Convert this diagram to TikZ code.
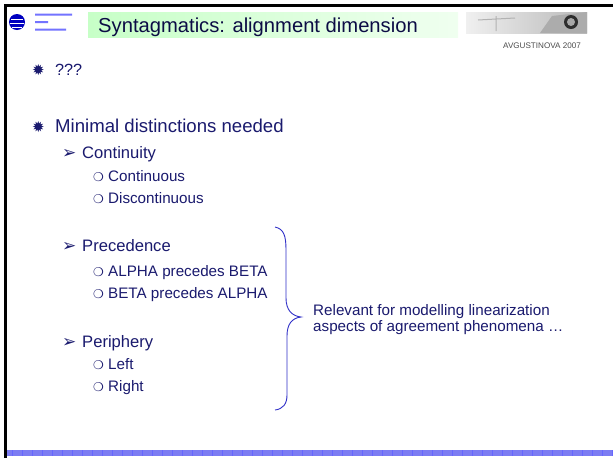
\documentclass[tikz,border=0pt]{standalone}
\usepackage{fontspec}
\setmainfont{Liberation Sans}
\newfontfamily\symfont{DejaVu Sans}
\definecolor{ink}{HTML}{1A1A6E}
\definecolor{titleink}{HTML}{0C0C45}
\definecolor{bracecol}{HTML}{3030C8}
\definecolor{bandcol}{HTML}{7C7CF2}
\tikzset{
  txt/.style={inner sep=0pt, anchor=base west, text=ink},
  lone/.style={txt, font=\fontsize{18.6}{22}\selectfont},
  ltwo/.style={txt, font=\fontsize{16.6}{20}\selectfont},
  lthree/.style={txt, font=\fontsize{15.2}{18}\selectfont},
  starbul/.style={txt, font=\symfont\fontsize{15}{17}\selectfont},
  arrbul/.style={txt, font=\symfont\fontsize{17}{19}\selectfont},
  circbul/.style={txt, font=\symfont\fontsize{12}{14}\selectfont},
}
\begin{document}
\begin{tikzpicture}[x=1pt,y=-1pt]
  \useasboundingbox (0,0) rectangle (613,459);
  \fill[white] (0,0) rectangle (613,459);
  % slide frame
  \draw[line width=2.5pt] (4,5.5) -- (613,5.5);
  \draw[line width=2.5pt] (5.5,4) -- (5.5,458);
  % header
  \shade[left color=green!22, right color=green!6] (88,12) rectangle (458,37);
  \fill[blue!75!black] (17,22) circle (8);
  \draw[white, line width=0.6pt] (11,19) -- (23,19) (10,23) -- (24,23) (12,27) -- (22,27);
  \fill[blue!55] (35,13.5) rectangle (72,15.5)
                 (35,21) rectangle (48,23)
                 (35,28.5) rectangle (66,30.5);
  \shade[left color=gray!12, right color=gray!55] (466,12) rectangle (587,33);
  \fill[gray!65] (540,33) -- (552,16) -- (587,12) -- (587,33) -- cycle;
  \fill[gray!35!black] (571,22) circle (7);
  \fill[gray!70] (571,22) circle (4);
  \draw[gray!60, line width=1pt] (478,20) -- (515,18) (496,16) -- (496,31);
  \draw
    (98,32) node[txt, text=titleink, font=\fontsize{20.2}{24}\selectfont] (title) {Syntagmatics: alignment dimension}
    (503,48) node[txt, text=black!70, font=\fontsize{8.1}{9}\selectfont] (author) {AVGUSTINOVA 2007};
  % bullets
  \draw
    (32,75) node[starbul] (s1) {✹}
    (55,75) node[lone, font=\fontsize{16.2}{20}\selectfont] (q) {???}
    (32,132) node[starbul] (s2) {✹}
    (55,132) node[lone] (minimal) {Minimal distinctions needed}
    (62,158) node[arrbul] (a1) {➢}
    (82,158) node[ltwo] (cont) {Continuity}
    (93,181) node[circbul] (c1) {❍}
    (108,181) node[lthree] (contin) {Continuous}
    (93,203) node[circbul] (c2) {❍}
    (108,203) node[lthree] (discont) {Discontinuous}
    (62,251) node[arrbul] (a2) {➢}
    (82,251) node[ltwo] (prec) {Precedence}
    (93,276) node[circbul] (c3) {❍}
    (108,276) node[lthree] (ab) {ALPHA precedes BETA}
    (93,298) node[circbul] (c4) {❍}
    (108,298) node[lthree] (ba) {BETA precedes ALPHA}
    (62,347) node[arrbul] (a3) {➢}
    (82,347) node[ltwo] (peri) {Periphery}
    (93,369) node[circbul] (c5) {❍}
    (108,369) node[lthree] (left) {Left}
    (93,391) node[circbul] (c6) {❍}
    (108,391) node[lthree] (right) {Right};
  % brace and note
  \coordinate (btop) at (275,227);
  \coordinate (btip) at (301,317);
  \coordinate (bbot) at (275,410);
  \draw[bracecol, line width=0.9pt] (btop) .. controls (284,229) and (286,236) .. (286,250)
    -- (286,298) .. controls (286,310) and (292,316) .. (btip)
    .. controls (292,318) and (287,324) .. (287,336)
    -- (287,395) .. controls (287,404) and (283,409) .. (bbot);
  \draw
    (313,315) node[lthree] (note1) {Relevant for modelling linearization}
    (313,331) node[lthree] (note2) {aspects of agreement phenomena …};
  % footer band
  \fill[bandcol] (7,450) rectangle (613,456);
  \foreach \x in {12,22,...,612}
    \draw[blue!60, line width=0.6pt] (\x,450) -- (\x,456);
\end{tikzpicture}
\end{document}
